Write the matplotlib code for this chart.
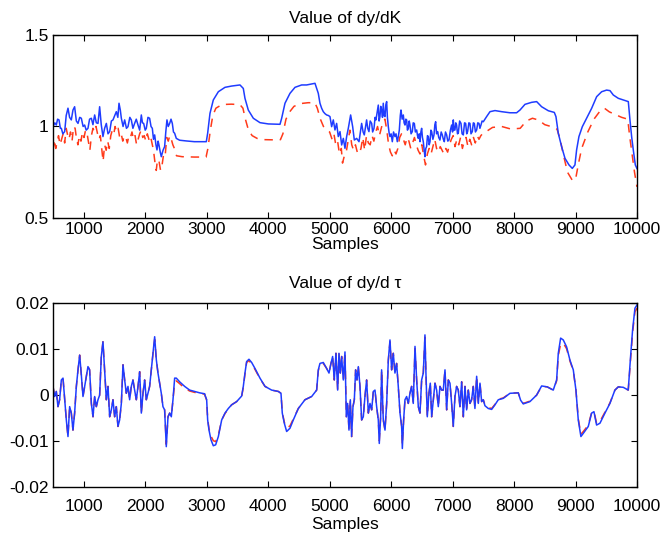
import matplotlib
matplotlib.use("Agg")
import matplotlib.pyplot as plt

plt.rcParams['font.family'] = ['Liberation Sans', 'DejaVu Sans']
plt.rcParams['axes.unicode_minus'] = False

# ---------------- data: dy/dK ----------------
dk_blue_x = [500, 530, 554, 575, 598, 620, 636, 660, 690, 715, 744, 770, 798, 825, 852, 880, 907, 935, 961, 990,
             1015, 1040, 1069, 1095, 1124, 1150, 1178, 1205, 1232, 1259, 1285, 1313, 1340, 1368, 1395, 1422, 1450,
             1476, 1505, 1530, 1555, 1574, 1595, 1612, 1640, 1666, 1695, 1720, 1750, 1774, 1800, 1828, 1855, 1883,
             1910, 1937, 1955, 1975, 2000, 2018, 2045, 2072, 2095, 2116, 2135, 2154, 2175, 2192, 2210, 2224, 2245,
             2262, 2290, 2316, 2335, 2354, 2375, 2398, 2420, 2441, 2460, 2479, 2506, 2560, 2669, 2800, 2994, 3016,
             3054, 3108, 3190, 3298, 3406, 3542, 3596, 3623, 3677, 3759, 3867, 4003, 4193, 4220, 4274, 4355, 4437,
             4545, 4626, 4762, 4816, 4843, 4870, 4897, 4925, 4952, 4980, 5006, 5033, 5060, 5087, 5114, 5141, 5169,
             5196, 5223, 5250, 5277, 5304, 5342, 5375, 5402, 5440, 5478, 5494, 5521, 5545, 5564, 5585, 5602, 5620,
             5640, 5660, 5684, 5700, 5722, 5740, 5754, 5770, 5792, 5805, 5819, 5832, 5846, 5860, 5873, 5887, 5901,
             5915, 5928, 5940, 5955, 5970, 5982, 6000, 6020, 6040, 6063, 6080, 6101, 6120, 6134, 6150, 6161, 6180,
             6199, 6212, 6226, 6240, 6253, 6266, 6280, 6295, 6307, 6325, 6345, 6360, 6378, 6395, 6416, 6430, 6443,
             6458, 6470, 6485, 6497, 6510, 6524, 6538, 6551, 6565, 6578, 6592, 6605, 6620, 6633, 6648, 6660, 6680,
             6698, 6712, 6725, 6740, 6757, 6775, 6795, 6815, 6833, 6850, 6866, 6885, 6904, 6922, 6942, 6965, 6985,
             7000, 7012, 7025, 7039, 7052, 7066, 7080, 7093, 7115, 7137, 7155, 7175, 7195, 7213, 7230, 7245, 7265,
             7283, 7300, 7321, 7338, 7354, 7372, 7392, 7410, 7430, 7445, 7462, 7480, 7500, 7554, 7609, 7690, 7798,
             7934, 8042, 8097, 8178, 8286, 8368, 8449, 8558, 8655, 8682, 8720, 8774, 8829, 8894, 8948, 8991, 9018,
             9056, 9111, 9181, 9262, 9344, 9425, 9506, 9561, 9615, 9696, 9777, 9859, 9886, 9913, 9940, 9973, 10000]
dk_blue_y = [0.999, 1.02, 1.008, 1.04, 1.036, 0.99, 0.990, 0.96, 0.972, 1.06, 1.10, 1.05, 1.036, 1.09, 1.108, 1.03,
             1.017, 1.05, 1.045, 1.00, 1.008, 0.98, 0.990, 1.04, 1.045, 1.01, 1.063, 1.02, 1.017, 1.108, 1.01, 0.945,
             0.99, 1.017, 0.96, 0.972, 1.03, 1.036, 1.06, 1.081, 1.05, 1.127, 1.09, 1.045, 1.00, 1.036, 0.99, 0.999,
             1.05, 1.036, 0.99, 1.017, 1.04, 1.008, 0.98, 1.063, 1.02, 1.017, 0.98, 0.990, 1.05, 1.045, 1.0, 0.990,
             0.93, 0.954, 0.90, 0.872, 0.92, 0.899, 0.86, 0.835, 0.87, 0.890, 0.97, 1.036, 1.00, 1.017, 1.04, 1.017,
             0.97, 0.963, 0.935, 0.925, 0.921, 0.917, 0.917, 0.963, 1.072, 1.145, 1.190, 1.214, 1.221, 1.227, 1.208,
             1.154, 1.090, 1.045, 1.021, 1.014, 1.012, 1.045, 1.127, 1.181, 1.214, 1.227, 1.227, 1.236, 1.181, 1.127,
             1.10, 1.081, 1.07, 1.063, 1.06, 1.054, 0.999, 1.036, 0.981, 1.017, 0.945, 0.972, 0.899, 0.935, 0.881,
             0.945, 0.990, 1.063, 0.999, 0.926, 0.935, 0.917, 0.954, 1.017, 0.97, 0.954, 1.00, 1.036, 0.99, 0.972,
             1.03, 1.017, 0.97, 0.990, 1.05, 1.036, 1.07, 1.117, 1.03, 1.054, 1.11, 1.090, 1.05, 1.127, 1.06, 1.054,
             1.12, 1.136, 1.05, 0.999, 0.96, 0.945, 0.96, 0.917, 0.97, 0.945, 0.96, 0.917, 0.95, 0.981, 1.06, 1.090,
             1.04, 1.063, 1.02, 1.008, 1.04, 1.036, 0.98, 0.990, 1.03, 1.008, 0.96, 0.972, 1.02, 1.017, 0.97, 0.981,
             0.95, 0.935, 0.96, 0.917, 0.97, 0.990, 0.94, 0.917, 0.87, 0.835, 0.88, 0.890, 0.95, 0.945, 0.90, 0.917,
             0.98, 0.972, 0.93, 0.954, 1.01, 1.026, 0.96, 0.972, 0.94, 0.926, 0.97, 0.954, 0.93, 0.917, 0.97, 0.954,
             0.92, 0.926, 0.98, 1.008, 0.97, 1.036, 0.98, 0.981, 1.02, 1.008, 0.96, 0.963, 1.03, 1.017, 0.96, 0.954,
             1.02, 1.017, 0.96, 0.972, 1.02, 1.017, 0.96, 0.972, 1.02, 1.017, 0.97, 0.981, 1.02, 1.017, 0.99, 1.008,
             1.03, 1.026, 1.054, 1.081, 1.087, 1.081, 1.075, 1.075, 1.090, 1.121, 1.132, 1.136, 1.108, 1.086, 1.077,
             1.054, 0.963, 0.890, 0.826, 0.790, 0.771, 0.790, 0.872, 0.945, 0.999, 1.045, 1.099, 1.163, 1.190, 1.199,
             1.196, 1.172, 1.154, 1.145, 1.136, 1.036, 0.945, 0.872, 0.790, 0.77]

dk_red_x = [500, 520, 545, 570, 590, 615, 640, 665, 690, 715, 740, 760, 785, 810, 835, 860, 880, 905, 930, 955,
            980, 1005, 1030, 1055, 1080, 1100, 1125, 1150, 1175, 1200, 1225, 1250, 1270, 1290, 1315, 1340, 1365,
            1390, 1415, 1440, 1465, 1490, 1510, 1535, 1560, 1585, 1610, 1635, 1660, 1685, 1710, 1735, 1760, 1785,
            1810, 1835, 1860, 1885, 1910, 1935, 1960, 1985, 2010, 2035, 2060, 2085, 2110, 2135, 2160, 2180, 2200,
            2225, 2250, 2275, 2300, 2325, 2350, 2375, 2400, 2425, 2450, 2475, 2510, 2600, 2800, 2990, 3020, 3060,
            3100, 3150, 3250, 3400, 3540, 3590, 3630, 3680, 3740, 3820, 3950, 4100, 4200, 4240, 4290, 4350, 4420,
            4520, 4650, 4760, 4800, 4850, 4900, 4950, 5000, 5040, 5070, 5100, 5130, 5160, 5190, 5210, 5240, 5270,
            5300, 5330, 5360, 5390, 5420, 5450, 5480, 5510, 5540, 5570, 5600, 5630, 5660, 5690, 5720, 5750, 5780,
            5810, 5840, 5870, 5900, 5930, 5960, 5990, 6020, 6050, 6080, 6110, 6140, 6170, 6200, 6230, 6260, 6290,
            6320, 6350, 6380, 6410, 6440, 6470, 6500, 6530, 6560, 6590, 6620, 6650, 6680, 6710, 6740, 6770, 6800,
            6830, 6860, 6890, 6920, 6950, 6980, 7010, 7040, 7070, 7100, 7130, 7160, 7190, 7220, 7250, 7280, 7310,
            7340, 7370, 7400, 7430, 7460, 7500, 7560, 7650, 7800, 7950, 8100, 8200, 8300, 8400, 8500, 8600, 8700,
            8750, 8800, 8870, 8950, 9000, 9050, 9100, 9200, 9300, 9400, 9470, 9550, 9650, 9750, 9850, 9880, 9920,
            9960, 10000]
dk_red_y = [0.87, 0.93, 0.88, 0.92, 0.95, 0.90, 0.93, 0.96, 0.91, 0.99, 0.95, 0.93, 0.97, 0.92, 1.00, 0.99, 0.94,
            0.90, 0.95, 0.92, 0.97, 0.94, 0.98, 0.96, 0.91, 0.87, 0.95, 0.99, 0.97, 1.00, 0.96, 0.93, 0.95, 0.89,
            0.81, 0.90, 0.87, 0.92, 0.88, 0.95, 0.98, 0.96, 1.00, 0.97, 0.99, 0.94, 0.96, 0.92, 0.95, 0.94, 0.91,
            0.95, 0.94, 0.97, 0.93, 0.95, 0.90, 0.93, 0.96, 0.98, 0.94, 0.95, 0.92, 0.96, 0.93, 0.95, 0.91, 0.87,
            0.80, 0.76, 0.82, 0.81, 0.76, 0.79, 0.85, 0.84, 0.94, 0.92, 0.95, 0.93, 0.90, 0.88, 0.84, 0.835, 0.833,
            0.833, 0.88, 0.98, 1.06, 1.10, 1.12, 1.122, 1.12, 1.10, 1.04, 0.98, 0.95, 0.935, 0.928, 0.927, 0.928,
            0.96, 1.04, 1.08, 1.11, 1.125, 1.13, 1.13, 1.10, 1.04, 1.00, 0.98, 0.97, 0.93, 0.96, 0.90, 0.92, 0.85,
            0.88, 0.80, 0.84, 0.86, 0.92, 0.98, 0.90, 0.87, 0.90, 0.86, 0.85, 0.88, 0.94, 0.87, 0.95, 0.91, 0.90,
            0.95, 0.92, 0.97, 1.00, 0.95, 0.99, 1.03, 1.04, 0.98, 0.90, 0.86, 0.84, 0.87, 0.85, 0.88, 0.94, 0.96,
            0.93, 0.90, 0.94, 0.92, 0.88, 0.91, 0.94, 0.90, 0.87, 0.85, 0.90, 0.84, 0.79, 0.85, 0.88, 0.85, 0.89,
            0.93, 0.88, 0.86, 0.89, 0.87, 0.85, 0.88, 0.86, 0.90, 0.93, 0.95, 0.89, 0.93, 0.90, 0.94, 0.88, 0.92,
            0.94, 0.89, 0.93, 0.90, 0.94, 0.91, 0.95, 0.93, 0.95, 0.965, 0.975, 0.995, 1.0, 0.986, 0.99, 1.03,
            1.045, 1.035, 1.01, 1.0, 0.985, 0.93, 0.85, 0.75, 0.705, 0.71, 0.80, 0.88, 0.97, 1.04, 1.085, 1.10,
            1.08, 1.065, 1.05, 1.04, 0.95, 0.85, 0.75, 0.67]

# ---------------- data: dy/dtau ----------------
dtau_x = [500, 527, 554, 581, 608, 636, 663, 690, 717, 744, 771, 798, 825, 852, 880, 907, 934, 961, 988, 1015,
          1042, 1069, 1096, 1124, 1151, 1178, 1205, 1232, 1259, 1286, 1313, 1340, 1368, 1395, 1422, 1449, 1476,
          1503, 1530, 1557, 1584, 1612, 1639, 1666, 1693, 1720, 1747, 1774, 1801, 1828, 1856, 1883, 1910, 1937,
          1964, 1991, 2018, 2045, 2072, 2099, 2127, 2154, 2181, 2208, 2235, 2262, 2289, 2316, 2343, 2371, 2398,
          2425, 2452, 2479, 2506, 2560, 2642, 2723, 2804, 2886, 2967, 2973, 3000, 3016, 3038, 3070, 3108, 3146,
          3190, 3244, 3298, 3352, 3406, 3488, 3569, 3596, 3623, 3650, 3688, 3732, 3786, 3867, 3949, 4057, 4166,
          4209, 4230, 4263, 4301, 4355, 4409, 4491, 4599, 4708, 4789, 4816, 4843, 4897, 4952, 4990, 5022, 5049,
          5076, 5103, 5131, 5152, 5174, 5196, 5223, 5250, 5272, 5293, 5315, 5337, 5358, 5380, 5402, 5423, 5445,
          5467, 5494, 5521, 5548, 5575, 5602, 5630, 5657, 5684, 5711, 5738, 5765, 5792, 5808, 5830, 5846, 5873,
          5901, 5928, 5955, 5982, 6009, 6036, 6063, 6090, 6117, 6145, 6172, 6183, 6204, 6226, 6253, 6280, 6307,
          6334, 6361, 6389, 6416, 6443, 6470, 6497, 6524, 6551, 6567, 6589, 6616, 6638, 6660, 6687, 6714, 6741,
          6768, 6795, 6822, 6849, 6877, 6904, 6931, 6958, 6985, 7012, 7039, 7066, 7093, 7120, 7148, 7175, 7202,
          7229, 7256, 7283, 7310, 7337, 7364, 7392, 7419, 7446, 7473, 7500, 7527, 7581, 7636, 7690, 7744, 7825,
          7934, 8069, 8107, 8150, 8259, 8367, 8449, 8540, 8638, 8693, 8720, 8758, 8801, 8855, 8910, 8964, 9007,
          9045, 9088, 9127, 9208, 9262, 9300, 9343, 9398, 9479, 9560, 9641, 9696, 9777, 9858, 9896, 9929, 9967,
          10000]
dtau_blue = [0.0018, -0.0004, 0.0007, -0.0026, -0.0011, 0.0032, 0.0036, -0.0011, -0.0055, -0.0091, -0.0026,
             -0.0040, -0.0077, -0.0040, 0.0018, 0.0054, 0.0086, 0.0043, -0.0004, 0.0018, 0.0039, 0.0061, 0.0054,
             -0.0019, -0.0048, -0.0004, -0.0026, -0.0011, -0.0001, 0.0083, 0.0115, 0.0054, -0.0011, 0.0018,
             -0.0048, -0.0033, -0.0011, -0.0048, -0.0026, -0.0069, -0.0055, -0.0019, 0.0065, 0.0032, 0.0003,
             0.0018, -0.0011, 0.0018, 0.0032, 0.0010, -0.0011, 0.0018, 0.0050, -0.0040, 0.0003, 0.0032, -0.0011,
             0.0003, 0.0018, 0.0054, 0.0090, 0.0126, 0.0076, 0.0047, 0.0025, 0.0003, -0.0026, -0.0033, -0.0113,
             -0.0048, -0.0040, -0.0048, -0.0011, 0.0036, 0.0036, 0.0028, 0.0018, 0.0010, 0.0007, 0.0004, 0.0002,
             -0.0001, -0.0011, -0.0055, -0.0077, -0.0098, -0.0111, -0.0109, -0.0091, -0.0055, -0.0040, -0.0030,
             -0.0022, -0.0015, -0.0003, 0.0018, 0.0047, 0.0072, 0.0077, 0.0070, 0.0057, 0.0036, 0.0018, 0.0010,
             0.0007, 0.0003, -0.0040, -0.0062, -0.0080, -0.0073, -0.0055, -0.0030, -0.0011, -0.0004, 0.0010,
             0.0054, 0.0068, 0.0070, 0.0057, 0.0047, 0.0068, 0.0083, 0.0032, 0.0090, 0.0010, 0.0090, 0.0047,
             0.0083, 0.0032, 0.0093, -0.0048, -0.0019, -0.0077, -0.0011, -0.0091, -0.0026, -0.0011, 0.0054,
             0.0032, 0.0061, 0.0018, -0.0055, -0.0048, -0.0004, 0.0032, -0.0040, -0.0019, -0.0033, 0.0007, 0.0010,
             -0.0026, -0.0055, -0.0106, -0.0048, 0.0054, -0.0055, -0.0077, -0.0019, 0.0075, 0.0119, 0.0054,
             0.0090, 0.0047, 0.0068, 0.0018, -0.0040, -0.0069, -0.0117, -0.0055, -0.0011, -0.0004, -0.0019,
             0.0003, 0.0018, -0.0019, 0.0105, 0.0032, -0.0026, -0.0040, 0.0032, 0.0047, 0.0130, 0.0047, -0.0048,
             0.0003, 0.0025, -0.0048, -0.0011, 0.0025, 0.0010, -0.0026, 0.0018, 0.0010, 0.0010, 0.0054, -0.0033,
             0.0032, 0.0025, -0.0019, -0.0069, -0.0004, 0.0018, 0.0010, -0.0026, 0.0028, -0.0048, 0.0018, -0.0033,
             0.0010, -0.0019, -0.0011, 0.0018, -0.0030, 0.0040, -0.0019, 0.0025, -0.0015, -0.0011, -0.0024,
             -0.0030, -0.0032, -0.0022, -0.0011, -0.0008, 0.0003, 0.0004, -0.0012, -0.0020, -0.0015, -0.0001,
             0.0019, 0.0017, 0.0010, 0.0032, 0.0090, 0.0123, 0.0119, 0.0104, 0.0075, 0.0054, 0.0010, -0.0055,
             -0.0091, -0.0084, -0.0069, -0.0040, -0.0037, -0.0066, -0.0062, -0.0040, -0.0019, 0.0010, 0.0017,
             0.0016, 0.0010, 0.0083, 0.0141, 0.0188, 0.0195]
dtau_red = [0.0018, -0.0004, 0.0007, -0.0026, -0.0011, 0.0032, 0.0036, -0.0011, -0.0055, -0.0091, -0.0026,
            -0.0040, -0.0077, -0.0040, 0.0018, 0.0054, 0.0086, 0.0043, -0.0004, 0.0018, 0.0039, 0.0061, 0.0054,
            -0.0019, -0.0048, -0.0004, -0.0026, -0.0011, -0.0001, 0.0083, 0.0115, 0.0054, -0.0011, 0.0018,
            -0.0048, -0.0033, -0.0011, -0.0048, -0.0026, -0.0069, -0.0055, -0.0019, 0.0065, 0.0032, 0.0003,
            0.0018, -0.0011, 0.0018, 0.0032, 0.0010, -0.0011, 0.0018, 0.0050, -0.0040, 0.0003, 0.0032, -0.0011,
            0.0003, 0.0018, 0.0054, 0.0090, 0.0120, 0.0076, 0.0047, 0.0025, 0.0003, -0.0026, -0.0033, -0.0108,
            -0.0048, -0.0040, -0.0048, -0.0011, 0.0026, 0.0030, 0.0024, 0.0014, 0.0008, 0.0005, 0.0003, 0.0001,
            -0.0002, -0.0012, -0.0052, -0.0074, -0.0090, -0.0100, -0.0102, -0.0088, -0.0055, -0.0041, -0.0031,
            -0.0022, -0.0015, -0.0004, 0.0016, 0.0045, 0.0070, 0.0074, 0.0067, 0.0055, 0.0035, 0.0018, 0.0010,
            0.0007, 0.0003, -0.0038, -0.0060, -0.0072, -0.0068, -0.0053, -0.0030, -0.0011, -0.0004, 0.0010,
            0.0052, 0.0066, 0.0068, 0.0057, 0.0047, 0.0068, 0.0083, 0.0032, 0.0090, 0.0010, 0.0090, 0.0047,
            0.0083, 0.0032, 0.0093, -0.0048, -0.0019, -0.0077, -0.0011, -0.0091, -0.0026, -0.0011, 0.0054,
            0.0032, 0.0061, 0.0018, -0.0055, -0.0048, -0.0004, 0.0032, -0.0040, -0.0019, -0.0033, 0.0007, 0.0010,
            -0.0026, -0.0055, -0.0100, -0.0048, 0.0054, -0.0055, -0.0077, -0.0019, 0.0075, 0.0115, 0.0054,
            0.0090, 0.0047, 0.0068, 0.0018, -0.0040, -0.0069, -0.0110, -0.0055, -0.0011, -0.0004, -0.0019,
            0.0003, 0.0018, -0.0019, 0.0100, 0.0032, -0.0026, -0.0040, 0.0032, 0.0047, 0.0125, 0.0047, -0.0048,
            0.0003, 0.0025, -0.0048, -0.0011, 0.0025, 0.0010, -0.0026, 0.0018, 0.0010, 0.0010, 0.0054, -0.0033,
            0.0032, 0.0025, -0.0019, -0.0069, -0.0004, 0.0018, 0.0010, -0.0026, 0.0028, -0.0048, 0.0018, -0.0033,
            0.0010, -0.0019, -0.0011, 0.0018, -0.0030, 0.0040, -0.0019, 0.0025, -0.0015, -0.0011, -0.0022,
            -0.0028, -0.0030, -0.0021, -0.0010, -0.0007, 0.0003, 0.0004, -0.0011, -0.0019, -0.0014, -0.0001,
            0.0018, 0.0017, 0.0010, 0.0030, 0.0085, 0.0110, 0.0112, 0.0100, 0.0073, 0.0052, 0.0010, -0.0052,
            -0.0086, -0.0080, -0.0066, -0.0039, -0.0036, -0.0062, -0.0058, -0.0038, -0.0018, 0.0010, 0.0017,
            0.0016, 0.0010, 0.0078, 0.0135, 0.0180, 0.0188]

x_ticks = [1000, 2000, 3000, 4000, 5000, 6000, 7000, 8000, 9000, 10000]
dk_ticks = [0.5, 1.0, 1.5]
dk_ticklabels = ['0.5', '1', '1.5']
dtau_ticks = [-0.02, -0.01, 0.0, 0.01, 0.02]
dtau_ticklabels = ['-0.02', '-0.01', '0', '0.01', '0.02']

BLUE = '#1f3cff'
RED = '#ff3a1a'
FS = 12.5

fig = plt.figure(figsize=(6.64, 5.36), dpi=100)
ax1 = fig.add_axes([0.0798, 0.5933, 0.8795, 0.3414])
ax2 = fig.add_axes([0.0798, 0.0920, 0.8795, 0.3433])

ax1.plot(dk_red_x, dk_red_y, color=RED, lw=1.1, dashes=(5.5, 4.5))
ax1.plot(dk_blue_x, dk_blue_y, color=BLUE, lw=1.1)
ax2.plot(dtau_x, dtau_red, color=RED, lw=1.1, dashes=(5.5, 4.5))
ax2.plot(dtau_x, dtau_blue, color=BLUE, lw=1.1)

for ax, yt, ytl, ylim, title, xpad, lpad, tpad in [
        (ax1, dk_ticks, dk_ticklabels, (0.5, 1.5), 'Value of dy/dK', 3, 0, 9),
        (ax2, dtau_ticks, dtau_ticklabels, (-0.02, 0.02), 'Value of dy/d τ', 9, 2, 10.5)]:
    ax.set_xlim(500, 10000)
    ax.set_ylim(*ylim)
    ax.set_xticks(x_ticks)
    ax.set_xticklabels([str(t) for t in x_ticks], fontsize=FS)
    ax.set_yticks(yt)
    ax.set_yticklabels(ytl, fontsize=FS)
    ax.tick_params(direction='in', length=4, width=0.8, top=True, right=True, pad=3)
    ax.tick_params(axis='x', pad=xpad)
    for s in ax.spines.values():
        s.set_linewidth(1.0)
    ax.set_xlabel('Samples', fontsize=FS, labelpad=lpad)
    ax.set_title(title, fontsize=FS, pad=tpad)

fig.savefig('out.png', dpi=100)
